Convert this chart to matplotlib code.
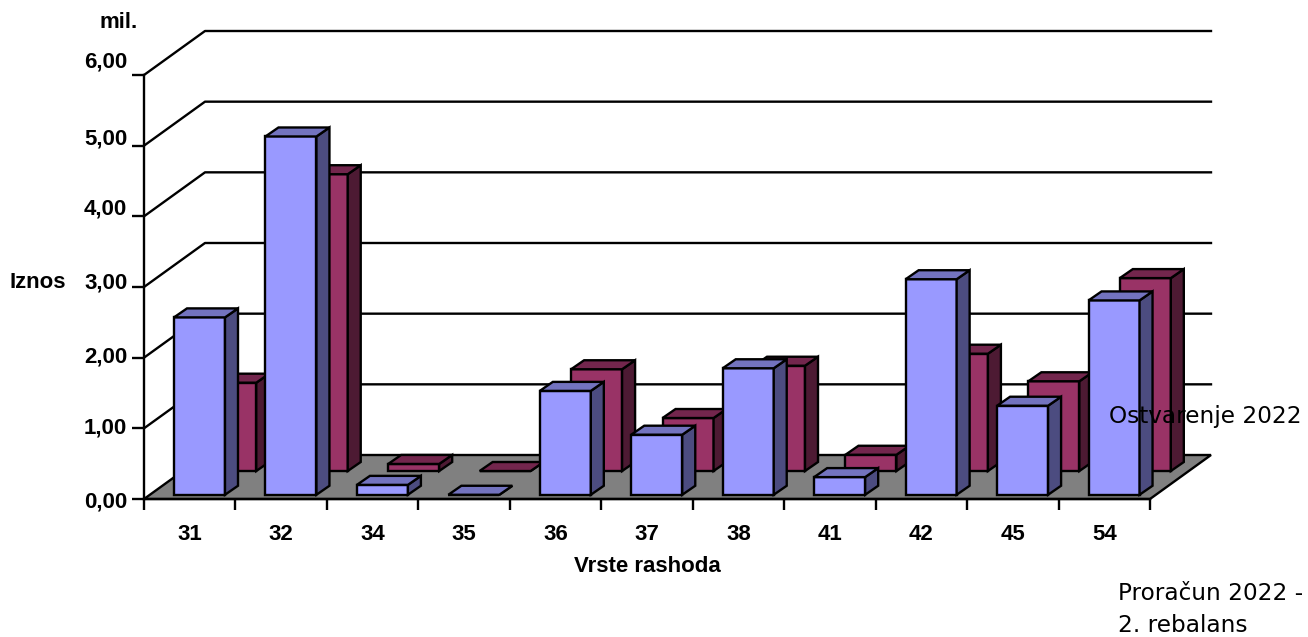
import numpy as np
import matplotlib
matplotlib.use("Agg")
import matplotlib.pyplot as plt

categories = ["31", "32", "34", "35", "36", "37", "38", "41", "42", "45", "54"]
ostvarenje = [2.51, 5.07, 0.14, 0.00, 1.47, 0.85, 1.79, 0.25, 3.05, 1.26, 2.75]
proracun = [1.25, 4.20, 0.10, 0.00, 1.44, 0.75, 1.49, 0.23, 1.66, 1.27, 2.73]
y_ticks = [0, 1, 2, 3, 4, 5, 6]
y_labels = ["0,00", "1,00", "2,00", "3,00", "4,00", "5,00", "6,00"]
y_label_nudge = [-3, 0, 1, 4, 7, 7, 13]  # labels sit above their ticks, more so higher up

W, H = 1308, 637
X0, X1, Y0, Y6 = 144, 1150, 499, 75
px_x = 11 / (X1 - X0)
px_y = 6 / (Y0 - Y6)
DEPTH_X, DEPTH_Y = 61 * px_x, 44 * px_y  # back wall offset
BAR_DX, BAR_DY = 13 * px_x, 9 * px_y     # bar depth
BAR_W = 51 * px_x
LW = 1.7


def bar3d(ax, x, base, h, front, side, top, z):
    ax.fill([x, x + BAR_W, x + BAR_W, x], [base, base, base + h, base + h],
            fc=front, ec="black", lw=LW, zorder=z, clip_on=False, joinstyle="miter")
    ax.fill([x + BAR_W, x + BAR_W + BAR_DX, x + BAR_W + BAR_DX, x + BAR_W],
            [base, base + BAR_DY, base + h + BAR_DY, base + h],
            fc=side, ec="black", lw=LW, zorder=z, clip_on=False, joinstyle="miter")
    ax.fill([x, x + BAR_W, x + BAR_W + BAR_DX, x + BAR_DX],
            [base + h, base + h, base + h + BAR_DY, base + h + BAR_DY],
            fc=top, ec="black", lw=LW, zorder=z, clip_on=False, joinstyle="miter")


plt.rcParams["font.family"] = "Liberation Sans"
fig = plt.figure(figsize=(W / 100, H / 100), dpi=100)
ax = fig.add_axes([X0 / W, 1 - Y0 / H, (X1 - X0) / W, (Y0 - Y6) / H])
n = len(categories)
ax.set_xlim(0, n)
ax.set_ylim(0, 6)
for s in ["top", "right"]:
    ax.spines[s].set_visible(False)
for s in ["left", "bottom"]:
    ax.spines[s].set_linewidth(LW)
    ax.spines[s].set_zorder(6)

# wall gridlines
for v in y_ticks[1:]:
    ax.plot([0, DEPTH_X, n + DEPTH_X], [v, v + DEPTH_Y, v + DEPTH_Y],
            color="black", lw=LW, zorder=1, clip_on=False)

# floor
ax.fill([0, n, n + DEPTH_X, DEPTH_X], [0, 0, DEPTH_Y, DEPTH_Y],
        fc="#808080", ec="black", lw=LW, zorder=2, clip_on=False)

# back row first, front row over it
for i, v in enumerate(proracun):
    bar3d(ax, i + 0.67, 0.396, v, "#993366", "#4D1A33", "#73264D", 3)
for i, v in enumerate(ostvarenje):
    bar3d(ax, i + 0.328, 0.06, v, "#9999FF", "#4C4C80", "#7373BF", 4)

ax.set_yticks(y_ticks)
ax.set_yticklabels([])
ax.tick_params(axis="y", length=8.6, width=LW)
ax.set_xticks(np.arange(n + 1))
ax.set_xticklabels([])
ax.tick_params(axis="x", which="major", length=8, width=LW)
ax.set_xticks(np.arange(n) + 0.5, minor=True)
ax.set_xticklabels(categories, minor=True, fontsize=16, fontweight="bold")
ax.tick_params(axis="x", which="minor", length=0, pad=18)

for v, lab, nudge in zip(y_ticks, y_labels, y_label_nudge):
    ax.annotate(lab, (0, v), xytext=(-12, nudge * 0.72), textcoords="offset points",
                ha="right", va="center", fontsize=16, fontweight="bold")

fig.text(119 / W, 1 - 23 / H, "mil.", ha="center", va="center", fontsize=16, fontweight="bold")
fig.text(38 / W, 1 - 283 / H, "Iznos", ha="center", va="center", fontsize=16, fontweight="bold")
fig.text(647 / W, 1 - 566 / H, "Vrste rashoda", ha="center", va="center", fontsize=16, fontweight="bold")

fig.text(1109 / W, 1 - 416 / H, "Ostvarenje 2022", ha="left", va="center",
         fontsize=16.7, family="DejaVu Sans", zorder=10)
fig.text(1118 / W, 1 - 594 / H, "Proračun 2022 -", ha="left", va="center",
         fontsize=16.7, family="DejaVu Sans", zorder=10)
fig.text(1118 / W, 1 - 626 / H, "2. rebalans", ha="left", va="center",
         fontsize=16.7, family="DejaVu Sans", zorder=10)

fig.savefig("out.png", dpi=100)
